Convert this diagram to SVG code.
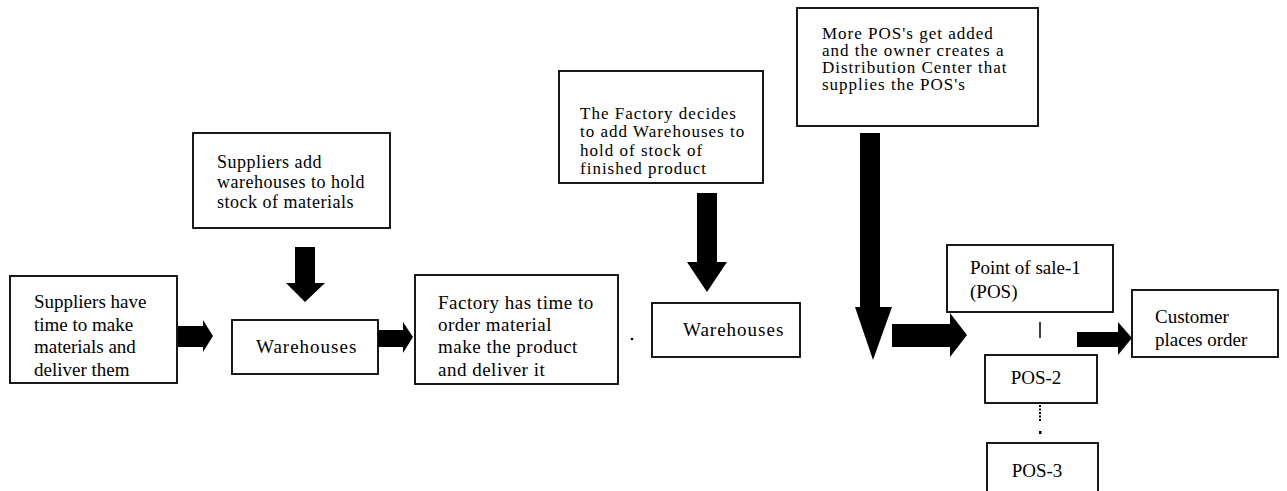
<svg xmlns="http://www.w3.org/2000/svg" width="1287" height="491" viewBox="0 0 1287 491">
<style>
.box{fill:#fff;stroke:#000;stroke-width:1.8}
.t{font-family:"Liberation Serif","Times New Roman",serif;font-size:19px;fill:#000}
.m{font-size:18px;letter-spacing:0.5px}
.s{font-size:17px;letter-spacing:1px}
.w{letter-spacing:1px}
.arr{fill:#000}
</style>
<rect width="1287" height="491" fill="#fff"/>
<g id="connectors">
<polygon class="arr" points="178,326 203,326 203,320 213,336 203,352 203,347 178,347"/>
<polygon class="arr" points="378,330 403,330 403,322 413,337 403,353 403,347 378,347"/>
<polygon class="arr" points="295,247 315,247 315,283 325,283 305,302 286,283 295,283"/>
<polygon class="arr" points="697,193 717,193 717,262 727,262 707,292 687,262 697,262"/>
<polygon class="arr" points="860,133 880,133 880,307 892,307 873,360 855,307 860,307"/>
<polygon class="arr" points="892,324 950,324 950,313 967,335 950,357 950,347 892,347"/>
<polygon class="arr" points="1077,332 1118,332 1118,322 1132,338 1118,355 1118,347 1077,347"/>
<line x1="1040" y1="322" x2="1040" y2="338" stroke="#000" stroke-width="1.5"/>
<line x1="1040" y1="405" x2="1040" y2="422" stroke="#000" stroke-width="2" stroke-dasharray="2,1.5"/>
<rect x="1039" y="431" width="2.5" height="3" fill="#000"/>
<circle cx="632" cy="339" r="1.3" fill="#000"/>
</g>
<g id="n1">
<rect class="box" x="10" y="276" width="167" height="107"/>
<text class="t" x="34"><tspan x="34" y="308">Suppliers have</tspan><tspan x="34" y="331">time to make</tspan><tspan x="34" y="353">materials and</tspan><tspan x="34" y="376">deliver them</tspan></text>
</g>
<g id="n2">
<rect class="box" x="193" y="133" width="197" height="95"/>
<text class="t m" x="217"><tspan x="217" y="168">Suppliers add</tspan><tspan x="217" y="188">warehouses to hold</tspan><tspan x="217" y="208">stock of materials</tspan></text>
</g>
<g id="n3">
<rect class="box" x="232" y="320" width="146" height="54"/>
<text class="t w" x="256" y="353">Warehouses</text>
</g>
<g id="n4">
<rect class="box" x="415" y="275" width="203" height="109"/>
<text class="t" x="438" style="letter-spacing:0.5px"><tspan x="438" y="309">Factory has time to</tspan><tspan x="438" y="331">order material</tspan><tspan x="438" y="353">make the product</tspan><tspan x="438" y="376">and deliver it</tspan></text>
</g>
<g id="n5">
<rect class="box" x="559" y="71" width="204" height="112"/>
<text class="t s" x="580"><tspan x="580" y="119">The Factory decides</tspan><tspan x="580" y="137">to add Warehouses to</tspan><tspan x="580" y="156">hold of stock of</tspan><tspan x="580" y="174">finished product</tspan></text>
</g>
<g id="n6">
<rect class="box" x="652" y="303" width="148" height="54"/>
<text class="t w" x="683" y="336">Warehouses</text>
</g>
<g id="n7">
<rect class="box" x="797" y="8" width="241" height="118"/>
<text class="t s" x="822"><tspan x="822" y="39">More POS's get added</tspan><tspan x="822" y="56">and the owner creates a</tspan><tspan x="822" y="73">Distribution Center that</tspan><tspan x="822" y="90">supplies the POS's</tspan></text>
</g>
<g id="n8">
<rect class="box" x="947" y="245" width="166" height="67"/>
<text class="t" x="970"><tspan x="970" y="274">Point of sale-1</tspan><tspan x="970" y="298">(POS)</tspan></text>
</g>
<g id="n9">
<rect class="box" x="1132" y="290" width="146" height="67"/>
<text class="t" x="1155"><tspan x="1155" y="323">Customer</tspan><tspan x="1155" y="346">places order</tspan></text>
</g>
<g id="n10">
<rect class="box" x="985" y="355" width="112" height="48"/>
<text class="t" x="1036" y="384" text-anchor="middle">POS-2</text>
</g>
<g id="n11">
<rect class="box" x="987" y="443" width="111" height="60"/>
<text class="t" x="1037" y="477" text-anchor="middle">POS-3</text>
</g>
</svg>
